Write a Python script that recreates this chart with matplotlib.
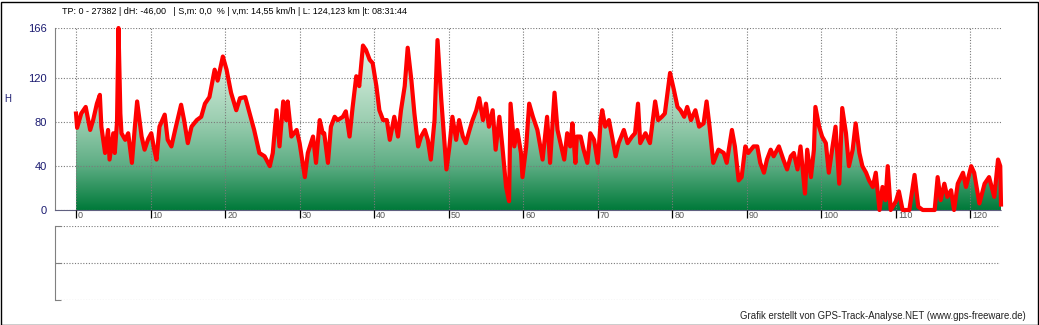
import matplotlib
matplotlib.use("Agg")
from matplotlib import pyplot as plt
from matplotlib.colors import LinearSegmentedColormap
from matplotlib.patches import Polygon, Rectangle
from matplotlib.transforms import ScaledTranslation
import numpy as np

# distance (km) and height (H)
km = [0, 0.15, 0.7, 1.0, 1.3, 1.9, 2.3, 2.8, 3.2, 3.4, 3.9, 4.3, 4.5, 5.0, 5.2, 5.5, 5.7, 5.95,
      6.1, 6.6, 7.0, 7.5, 7.9, 8.2, 8.8, 9.2, 9.7, 10.1, 10.5, 10.8, 11.2, 11.9, 12.3, 12.8, 13.3,
      14.1, 14.5, 15.0, 15.5, 16.2, 16.8, 17.3, 17.9, 18.6, 19.0, 19.7, 20.2, 20.8, 21.5, 22.0,
      22.7, 23.3, 23.9, 24.6, 25.3, 26.0, 26.4, 26.9, 27.3, 27.8, 28.2, 28.4, 28.9, 29.6, 30.0,
      30.7, 31.1, 31.8, 32.2, 32.7, 33.1, 33.3, 33.8, 34.2, 34.7, 35.1, 35.8, 36.2, 36.7, 37.1,
      37.6, 38.0, 38.5, 38.9, 39.4, 39.8, 40.3, 40.7, 41.2, 41.7, 42.1, 42.7, 43.2, 43.6, 44.1,
      44.5, 45.0, 45.4, 45.9, 46.3, 46.8, 47.2, 47.6, 48.1, 48.5, 49.0, 49.4, 49.7, 50.1, 50.5,
      51.0, 51.4, 51.9, 52.3, 52.8, 53.2, 53.7, 54.1, 54.6, 55.0, 55.4, 55.9, 56.3, 56.8, 57.2,
      57.7, 58.1, 58.3, 58.8, 59.2, 59.7, 59.9, 60.4, 60.8, 61.3, 61.9, 62.6, 63.2, 63.6, 64.2,
      64.6, 65.0, 65.5, 65.9, 66.3, 66.6, 67.0, 67.2, 67.7, 68.1, 68.6, 69.0, 69.5, 70.0, 70.4,
      70.6, 71.0, 71.5, 72.0, 72.4, 72.8, 73.5, 74.0, 74.6, 75.0, 75.4, 75.7, 76.4, 77.0, 77.7,
      78.1, 78.6, 79.0, 79.7, 80.2, 80.7, 81.1, 81.6, 82.0, 82.5, 83.1, 83.6, 84.2, 84.6, 85.0,
      85.5, 86.2, 86.9, 87.3, 88.0, 88.4, 88.9, 89.3, 89.8, 90.2, 90.9, 91.4, 91.8, 92.3, 92.7,
      93.2, 93.6, 94.3, 94.9, 95.4, 95.9, 96.3, 96.8, 97.2, 97.8, 98.1, 98.6, 99.0, 99.2, 99.7,
      100.1, 100.6, 101.0, 101.5, 101.9, 102.4, 102.8, 103.3, 103.7, 104.2, 104.6, 105.1, 105.5,
      106.0, 106.4, 106.9, 107.3, 107.8, 108.2, 108.6, 108.9, 109.3, 110.0, 110.4, 110.9, 111.8,
      112.5, 113.0, 113.6, 115.2, 115.6, 116.0, 116.5, 116.9, 117.4, 117.8, 118.3, 119.0, 119.4,
      120.1, 120.5, 121.2, 121.9, 122.5, 123.2, 123.7, 124.0, 124.1]
height = [88, 75, 88, 91, 94, 73, 82, 97, 105, 76, 52, 73, 46, 70, 52, 80, 166, 88,
          70, 64, 70, 43, 76, 99, 67, 55, 65, 70, 55, 46, 76, 87, 64, 58, 73,
          96, 82, 61, 76, 82, 85, 97, 103, 128, 118, 140, 128, 107, 91, 102,
          103, 88, 73, 52, 49, 40, 52, 91, 58, 99, 82, 99, 67, 73, 61,
          30, 52, 67, 43, 82, 70, 70, 43, 76, 85, 82, 85, 90, 67, 93,
          122, 113, 150, 146, 137, 134, 113, 91, 82, 82, 64, 85, 67, 91, 113,
          148, 118, 88, 58, 67, 73, 64, 46, 82, 155, 101, 64, 37, 58, 85,
          64, 82, 67, 61, 73, 82, 91, 102, 82, 97, 76, 91, 55, 85, 58,
          21, 8, 97, 58, 73, 52, 30, 58, 97, 85, 73, 46, 85, 43, 107,
          73, 61, 46, 70, 58, 79, 43, 67, 67, 55, 43, 70, 64, 43, 82,
          91, 76, 82, 64, 49, 61, 73, 61, 67, 70, 97, 61, 70, 61, 99,
          82, 85, 88, 125, 110, 94, 91, 85, 94, 82, 91, 76, 79, 99, 76,
          43, 55, 52, 43, 73, 58, 27, 30, 58, 52, 58, 58, 43, 34, 46,
          55, 49, 58, 46, 37, 49, 52, 37, 58, 15, 55, 30, 55, 94, 76,
          67, 61, 34, 58, 76, 24, 93, 70, 40, 55, 79, 52, 40,
          34, 27, 21, 34, 0, 21, 9, 40, 0, 8, 17, 0, 0,
          32, 3, 0, 0, 30, 9, 24, 12, 18, 0, 24, 34, 21,
          40, 34, 6, 24, 30, 12, 46, 40, 5]

xticks = list(range(0, 121, 10))
yticks = [0, 40, 80, 120, 166]
header = "TP: 0 - 27382 | dH: -46,00   | S,m: 0,0  % | v,m: 14,55 km/h | L: 124,123 km |t: 08:31:44"
credit = "Grafik erstellt von GPS-Track-Analyse.NET (www.gps-freeware.de)"

W, H = 1039, 325
plt.rcParams["font.family"] = ["Liberation Sans", "DejaVu Sans"]
fig = plt.figure(figsize=(W / 100, H / 100), dpi=100)
fig.patch.set_facecolor("white")


def px_box(left, top, right, bottom):
    return [left / W, 1 - bottom / H, (right - left) / W, (bottom - top) / H]


grid_kw = dict(color="#7a7a7a", linestyle=(0, (1, 1.5)), linewidth=0.8)

# main height profile
ax = fig.add_axes(px_box(55, 28, 1001, 210))
x0 = -21 / 7.45
ax.set_xlim(x0, max(km))
ax.set_ylim(0, 166)

# green gradient under the line, clipped to the profile
cmap = LinearSegmentedColormap.from_list(
    "elev", [(0.0, "#007a3a"), (0.25, "#5fae85"), (0.5, "#9dcfb2"),
             (0.75, "#c8e6d3"), (1.0, "#eef8f1")])
grad = np.linspace(0, 1, 256).reshape(-1, 1)
img = ax.imshow(grad, cmap=cmap, origin="lower", aspect="auto",
                extent=[0, max(km), 0, 166], zorder=1)
poly = Polygon(np.column_stack([[0] + km + [max(km)], [0] + height + [0]]),
               closed=True, facecolor="none", edgecolor="none")
ax.add_patch(poly)
img.set_clip_path(poly)

ax.set_xticks(xticks)
ax.set_yticks(yticks)
ax.grid(True, zorder=2, **grid_kw)
ax.set_axisbelow(False)
ax.plot(km, height, color="#ff0000", linewidth=3.0, solid_joinstyle="round", zorder=3,
        clip_on=False)

for side in ["top", "right"]:
    ax.spines[side].set_visible(False)
ax.spines["left"].set_color("#808080")
ax.spines["bottom"].set_color("#606080")
ax.spines["bottom"].set_linestyle((0, (1, 1)))
ax.spines["bottom"].set_linewidth(0.8)

ax.tick_params(axis="x", direction="out", length=6, width=0.9, color="black",
               pad=-5.5, labelsize=6.5, labelcolor="#555555")
ax.set_xticklabels([str(t) for t in xticks])
for lab in ax.get_xticklabels():
    lab.set_horizontalalignment("left")
    lab.set_transform(lab.get_transform() + ScaledTranslation(2 / 100, 0, fig.dpi_scale_trans))
ax.tick_params(axis="y", length=0, pad=6, labelsize=8, labelcolor="#1a1a70")
ax.set_yticklabels([str(t) for t in yticks])
ax.set_ylabel("H", rotation=0, color="#1a1a70", fontsize=7)
ax.yaxis.set_label_coords(-47 / 946, 0.58)

# empty second panel
ax2 = fig.add_axes(px_box(55, 226, 1000, 300))
ax2.set_xlim(0, 1)
ax2.set_ylim(0, 2)
ax2.set_xticks([])
ax2.set_yticks([0, 1, 2])
ax2.set_yticklabels([])
ax2.tick_params(axis="y", direction="in", length=4, color="#808080")
ax2.yaxis.grid(True, **grid_kw)
for side in ["top", "right", "bottom"]:
    ax2.spines[side].set_visible(False)
ax2.spines["left"].set_color("#808080")

fig.text(62 / W, 1 - 12 / H, header, fontsize=6.5, color="black", va="center", ha="left")
fig.text(1026 / W, 1 - 316 / H, credit, fontsize=6.9, color="#222222", va="center", ha="right")

# frame round the whole picture
fig.add_artist(Rectangle((0.5 / W, 0.5 / H), 1 - 2 / W, 1 - 2 / H, transform=fig.transFigure,
                         fill=False, edgecolor="black", linewidth=1.0))

fig.savefig("out.png", dpi=100)
